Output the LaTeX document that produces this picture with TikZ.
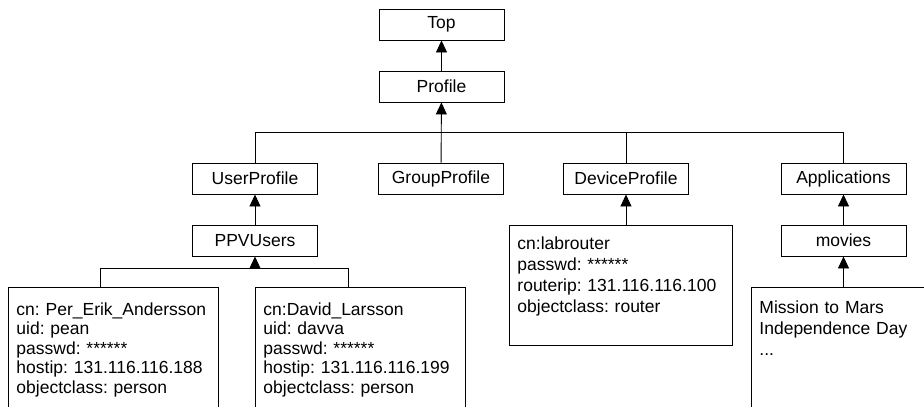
\documentclass[tikz,border=0pt]{standalone}
\usepackage{fontspec}
\setmainfont{Liberation Sans}
\usetikzlibrary{arrows.meta}
\frenchspacing

\begin{document}
\begin{tikzpicture}[x=1pt,y=-1pt,
    every node/.style={font=\fontsize{17.5}{20.7}\selectfont},
    class/.style={draw,line width=0.9pt,minimum width=125pt,minimum height=31pt,inner sep=0pt},
    entry/.style={draw,line width=0.9pt,anchor=north west,align=left,inner xsep=8pt,inner ysep=10pt},
    person/.style={entry,text width=194pt,text depth=110pt,inner ysep=14pt,
        font=\fontsize{17.5}{19.5}\selectfont},
    isa/.style={-{Triangle[width=11pt,length=12pt]},line width=0.9pt},
    link/.style={line width=0.9pt}]

\clip (0,0) rectangle (924,407);

% class tree
\node[class] (top) at (441.5,24.5) {Top};
\node[class] (profile) at (441.5,86.5) {Profile};
\node[class] (userprof) at (255,178.5) {UserProfile};
\node[class] (groupprof) at (441,178.5) {GroupProfile};
\node[class] (deviceprof) at (626,178.5) {DeviceProfile};
\node[class] (apps) at (843.5,178.5) {Applications};
\node[class] (ppv) at (255,240.5) {PPVUsers};
\node[class] (movies) at (843.5,240.5) {movies};

% entries
\node[person] (per) at (8,287)
    {\strut cn: Per\_Erik\_Andersson\\uid: pean\\passwd: ******\\hostip: 131.116.116.188\\objectclass: person};
\node[person] (david) at (255,287)
    {\strut cn:David\_Larsson\\uid: davva\\passwd: ******\\hostip: 131.116.116.199\\objectclass: person};
\node[entry,text width=207pt,text depth=85.5pt] (labrouter) at (509,225)
    {\strut cn:labrouter\\passwd: ******\\routerip: 131.116.116.100\\objectclass: router};
\node[entry,text width=200pt,text depth=110pt,inner ysep=12pt] (mission) at (751,287)
    {\strut Mission to Mars\\Independence Day\\...};

\coordinate (upbus) at (0,132);
\coordinate (lowbus) at (0,268);

% connectors
\draw[isa] (profile) -- (top);
\draw[isa] (groupprof) -- (profile);
\draw[link] (userprof.north) -- (userprof.north |- upbus) -- (apps.north |- upbus) -- (apps.north);
\draw[link] (deviceprof.north) -- (deviceprof.north |- upbus);
\draw[isa] (ppv) -- (userprof);
\draw[isa] (ppv.south |- lowbus) -- (ppv.south);
\draw[link] ([xshift=-13pt]per.north) -- ([xshift=-13pt]per.north |- lowbus)
    -- ([xshift=-12pt]david.north |- lowbus) -- ([xshift=-12pt]david.north);
\draw[isa] (deviceprof.south |- labrouter.north) -- (deviceprof.south);
\draw[isa] (movies) -- (apps);
\draw[isa] (movies.south |- mission.north) -- (movies.south);
\end{tikzpicture}
\end{document}
